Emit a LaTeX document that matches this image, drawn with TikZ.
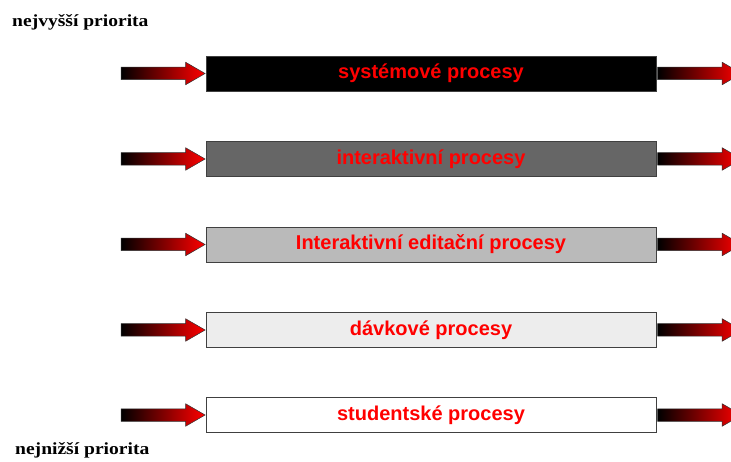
\documentclass[tikz,border=0pt]{standalone}
\usepackage{fontspec}
\setmainfont{Liberation Serif}
\setsansfont{Liberation Sans}
\newfontfamily\priofont[FakeStretch=1.15]{Liberation Serif}
\usetikzlibrary{shapes.arrows}

\tikzset{
  proc/.style={draw=black!75, line width=0.8pt, minimum width=450pt, minimum height=35pt,
    inner sep=0pt, text=red, font=\sffamily\bfseries\fontsize{20}{22}\selectfont},
  flow/.style={single arrow, draw=black!80, line width=0.5pt, left color=black, right color=red,
    minimum height=84pt, minimum width=22pt, inner sep=6pt, single arrow head extend=5pt,
    single arrow tip angle=60},
  prio/.style={font=\priofont\bfseries\fontsize{17}{19}\selectfont, anchor=west, inner sep=0pt}
}

\begin{document}
\begin{tikzpicture}[x=1pt, y=-1pt]
  \clip (0,0) rectangle (731,462);

  \node[prio] (hi) at (12,22) {nejvyšší priorita};
  \node[prio] (lo) at (15,450) {nejnižší priorita};

  \node[proc, fill=black]    (sys)   at (431,73.5)  {systémové procesy};
  \node[proc, fill=black!60] (inter) at (431,159)   {interaktivní procesy};
  \node[proc, fill=black!27] (edit)  at (431,244.5) {Interaktivní editační procesy};
  \node[proc, fill=black!7]  (batch) at (431,330)   {dávkové procesy};
  \node[proc, fill=white]    (stud)  at (431,415)   {studentské procesy};

  % vstupy a vystupy
  \foreach \p in {sys,inter,edit,batch,stud} {
    \node[flow, anchor=tip]  (in\p)  at (\p.west) {};
    \node[flow, anchor=tail] (out\p) at ([xshift=1pt]\p.east) {};
  }
\end{tikzpicture}
\end{document}
